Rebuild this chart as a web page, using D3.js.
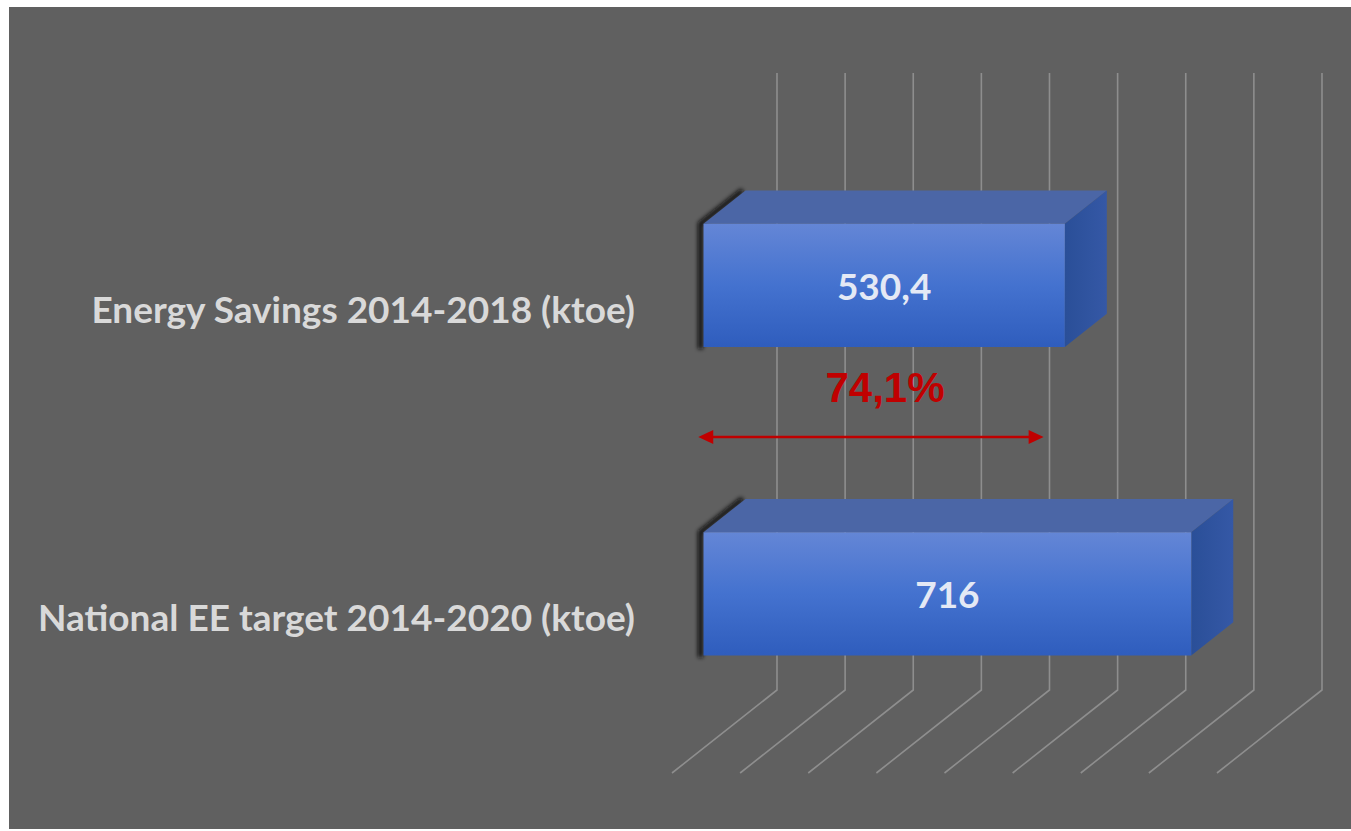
<!DOCTYPE html>
<html>
<head>
<meta charset="utf-8">
<script src="https://cdn.jsdelivr.net/npm/d3@7"></script>
<style>
  html, body { margin: 0; padding: 0; background: #ffffff; }
  svg { display: block; }
</style>
</head>
<body>
<svg id="chart" width="1351" height="831"></svg>
<script>
// 3D horizontal bar chart: energy savings vs national target

const categories = ['Energy Savings 2014-2018 (ktoe)', 'National EE target 2014-2020 (ktoe)'];
const values = [530.4, 716];
const valueLabels = ['530,4', '716'];
const axisMax = 800;
const shareLabel = '74,1%';
const arrowRange = [0, 507]; // hand-drawn arrow

const width = 1351;
const height = 831;

// oblique depth: z = 0 front of floor, z = 1 back wall
const depthDx = 105;
const depthDy = 83;
const barZ = [0.3, 0.7];

const svg = d3.select('#chart');

// grey plot area
svg.append('rect')
    .attr('x', 9)
    .attr('y', 7)
    .attr('width', width - 9)
    .attr('height', 822)
    .attr('fill', '#606060');

const x = d3.scaleLinear()
    .domain([0, axisMax])
    .range([672, 1217]);

const y = d3.scaleBand()
    .domain(categories)
    .range([156, 773])
    .paddingInner(0.6)
    .paddingOuter(0.3);

const floorY = 773;
const topY = 156;

// project a front-plane point to depth z
const proj = (px, py, z) => [px + z * depthDx, py - z * depthDy];

const defs = svg.append('defs');

const frontGrad = defs.append('linearGradient')
    .attr('id', 'frontGrad')
    .attr('x1', 0).attr('y1', 0).attr('x2', 0).attr('y2', 1);
frontGrad.append('stop').attr('offset', '0%').attr('stop-color', '#6486d6');
frontGrad.append('stop').attr('offset', '50%').attr('stop-color', '#4472cf');
frontGrad.append('stop').attr('offset', '100%').attr('stop-color', '#2f5dbd');

const sideGrad = defs.append('linearGradient')
    .attr('id', 'sideGrad')
    .attr('x1', 0).attr('y1', 0).attr('x2', 1).attr('y2', 0);
sideGrad.append('stop').attr('offset', '0%').attr('stop-color', '#2a4f98');
sideGrad.append('stop').attr('offset', '100%').attr('stop-color', '#3558a6');

const shadow = defs.append('filter')
    .attr('id', 'edgeShadow')
    .attr('x', '-50%').attr('y', '-50%').attr('width', '200%').attr('height', '200%');
shadow.append('feGaussianBlur').attr('stdDeviation', 2);

// gridlines: back wall verticals + floor diagonals
const ticks = x.ticks(8);
const grid = svg.append('g')
    .attr('stroke', '#8e8e8e')
    .attr('stroke-width', 1.6)
    .attr('fill', 'none');

grid.selectAll('path')
    .data(ticks)
    .enter()
    .append('path')
    .attr('d', d => {
        const a = proj(x(d), topY, 1);
        const b = proj(x(d), floorY, 1);
        const c = proj(x(d), floorY, 0);
        return d3.line()([a, b, c]);
    });

// bars
const bars = svg.append('g')
    .selectAll('g')
    .data(categories.map((c, i) => ({ cat: c, value: values[i], label: valueLabels[i] })))
    .enter()
    .append('g');

const line = d3.line();

// dark shadow along the left edge
bars.append('path')
    .attr('d', d => {
        const x0 = x(0) - 3;
        const yt = y(d.cat);
        const yb = yt + y.bandwidth();
        return line([proj(x0, yt, barZ[1]), proj(x0, yt, barZ[0]), proj(x0, yb + 2, barZ[0])]);
    })
    .attr('fill', 'none')
    .attr('stroke', '#111')
    .attr('stroke-width', 5)
    .attr('filter', 'url(#edgeShadow)');

// top face
bars.append('path')
    .attr('d', d => {
        const yt = y(d.cat);
        return line([
            proj(x(0), yt, barZ[0]),
            proj(x(d.value), yt, barZ[0]),
            proj(x(d.value), yt, barZ[1]),
            proj(x(0), yt, barZ[1])
        ]) + 'Z';
    })
    .attr('fill', '#4b66a6');

// right side face
bars.append('path')
    .attr('d', d => {
        const yt = y(d.cat);
        const yb = yt + y.bandwidth();
        return line([
            proj(x(d.value), yt, barZ[0]),
            proj(x(d.value), yt, barZ[1]),
            proj(x(d.value), yb, barZ[1]),
            proj(x(d.value), yb, barZ[0])
        ]) + 'Z';
    })
    .attr('fill', 'url(#sideGrad)');

// front face
bars.append('path')
    .attr('d', d => {
        const yt = y(d.cat);
        const yb = yt + y.bandwidth();
        return line([
            proj(x(0), yt, barZ[0]),
            proj(x(d.value), yt, barZ[0]),
            proj(x(d.value), yb, barZ[0]),
            proj(x(0), yb, barZ[0])
        ]) + 'Z';
    })
    .attr('fill', 'url(#frontGrad)');

// value labels
bars.append('text')
    .attr('x', d => proj((x(0) + x(d.value)) / 2, 0, barZ[0])[0])
    .attr('y', d => proj(0, y(d.cat) + y.bandwidth() / 2, barZ[0])[1] + 5)
    .attr('text-anchor', 'middle')
    .attr('dominant-baseline', 'middle')
    .style('font-family', 'Lato, "Open Sans", sans-serif')
    .style('font-weight', 'bold')
    .style('font-size', '37px')
    .style('fill', '#e4e9f5')
    .text(d => d.label);

// category labels
svg.append('g')
    .selectAll('text')
    .data(categories)
    .enter()
    .append('text')
    .attr('x', 635)
    .attr('y', d => proj(0, y(d) + y.bandwidth() / 2, barZ[0])[1] + 28)
    .attr('text-anchor', 'end')
    .attr('dominant-baseline', 'middle')
    .style('font-family', 'Lato, "Open Sans", sans-serif')
    .style('font-weight', 'bold')
    .style('font-size', '37px')
    .style('fill', '#d9d9d9')
    .text(d => d);

// share annotation
const red = '#c00000';
const arrowY = 437;
const ax0 = proj(x(arrowRange[0]), 0, 0.25)[0];
const ax1 = proj(x(arrowRange[1]), 0, 0.25)[0];

svg.append('line')
    .attr('x1', ax0 + 10)
    .attr('x2', ax1 - 10)
    .attr('y1', arrowY)
    .attr('y2', arrowY)
    .attr('stroke', red)
    .attr('stroke-width', 2.5);

svg.append('path')
    .attr('d', line([[ax0, arrowY], [ax0 + 15, arrowY - 7], [ax0 + 15, arrowY + 7]]) + 'Z')
    .attr('fill', red);
svg.append('path')
    .attr('d', line([[ax1, arrowY], [ax1 - 15, arrowY - 7], [ax1 - 15, arrowY + 7]]) + 'Z')
    .attr('fill', red);

svg.append('text')
    .attr('x', 885)
    .attr('y', 402)
    .attr('text-anchor', 'middle')
    .style('font-family', '"Liberation Sans", Arial, sans-serif')
    .style('font-weight', 'bold')
    .style('font-size', '42px')
    .style('fill', red)
    .text(shareLabel);
</script>
</body>
</html>
